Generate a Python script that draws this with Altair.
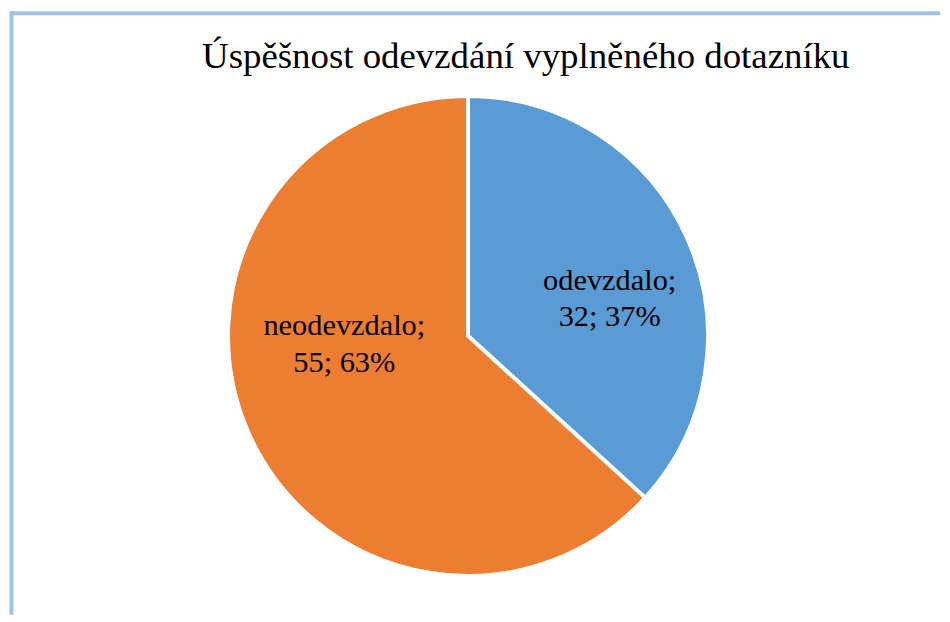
import altair as alt
import pandas as pd

categories = ["odevzdalo", "neodevzdalo"]
values = [32, 55]
percents = [37, 63]
colors = ["#5B9BD5", "#ED7D31"]
title_text = "Úspěšnost odevzdání vyplněného dotazníku"

df = pd.DataFrame({
    "kategorie": categories,
    "pocet": values,
    "procento": percents,
    "poradi": list(range(len(categories))),
})
df["popisek"] = [f"{c};\n{v}; {p}%" for c, v, p in zip(categories, values, percents)]

W, H = 934, 606
CX, CY, R = 460, 326, 241
FONT = "Liberation Serif"

base = alt.Chart(df)

pie = base.mark_arc(radius=R, stroke="white", strokeWidth=4).encode(
    theta=alt.Theta("pocet:Q", stack=True),
    color=alt.Color("kategorie:N", scale=alt.Scale(domain=categories, range=colors), legend=None),
    order=alt.Order("poradi:Q"),
    x=alt.value(CX),
    y=alt.value(CY),
)

def label_layer(cat, dx, dy):
    return base.mark_text(
        radius=150, font=FONT, fontSize=30.5, lineBreak="\n", lineHeight=37,
        align="center", baseline="middle", color="black", dx=dx, dy=dy,
    ).encode(
        theta=alt.Theta("pocet:Q", stack=True),
        order=alt.Order("poradi:Q"),
        text="popisek:N",
        x=alt.value(CX),
        y=alt.value(CY),
        opacity=alt.condition(alt.datum.kategorie == cat, alt.value(1), alt.value(0)),
    )

lab1 = label_layer(categories[0], 5, 5)
lab2 = label_layer(categories[1], 13, -70)

title = alt.Chart(pd.DataFrame({"t": [title_text]})).mark_text(
    font=FONT, fontSize=37, align="center", baseline="alphabetic", color="black"
).encode(text="t:N", x=alt.value(518), y=alt.value(57))

border_left = alt.Chart(pd.DataFrame({"a": [0]})).mark_rule(
    color="#9DC3E6", strokeWidth=4
).encode(x=alt.value(1.5), y=alt.value(0), y2=alt.value(H))
border_top = alt.Chart(pd.DataFrame({"a": [0]})).mark_rule(
    color="#9DC3E6", strokeWidth=4
).encode(y=alt.value(2), x=alt.value(0), x2=alt.value(W))

chart = alt.layer(border_left, border_top, pie, lab1, lab2, title).properties(
    width=W, height=H, padding=0
).configure_view(stroke=None)

chart.save("out.html", embed_options={"renderer": "svg", "actions": False})
